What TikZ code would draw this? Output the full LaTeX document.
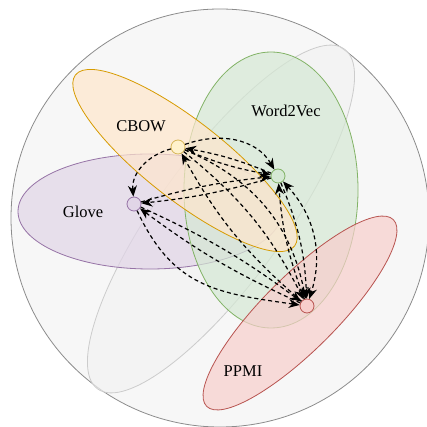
\documentclass[tikz,border=0pt]{standalone}
\usepackage{fontspec}
\setmainfont{Liberation Serif}
\usetikzlibrary{arrows.meta}
\definecolor{cbowfill}{HTML}{FFE6CC}
\definecolor{cbowdraw}{HTML}{D79B00}
\definecolor{cbowdotfill}{HTML}{FFF2CC}
\definecolor{cbowdotdraw}{HTML}{D6B656}
\definecolor{wvfill}{HTML}{D5E8D4}
\definecolor{wvdraw}{HTML}{82B366}
\definecolor{glovefill}{HTML}{E1D5E7}
\definecolor{glovedraw}{HTML}{9673A6}
\definecolor{ppmifill}{HTML}{F8CECC}
\definecolor{ppmidraw}{HTML}{B85450}

\begin{document}
\begin{tikzpicture}[x=1pt,y=1pt,
  >={Stealth[length=11pt,width=9pt,inset=3.5pt]},
  dot/.style={circle,draw,line width=0.8pt,minimum size=14pt,inner sep=0pt},
  blob/.style={line width=0.8pt,fill opacity=0.7},
  lbl/.style={font=\fontsize{16.5}{19}\selectfont},
  link/.style={->,dash pattern=on 4pt off 3pt,line width=1.2pt}]
 \useasboundingbox (0,0) rectangle (427,427);
 \draw[draw=black!45,fill=black!3,line width=0.8pt] (220,209) circle (209pt);
 \draw[blob,draw=black!20,fill=black!5,shift={(221,208)},rotate=54] (0,0) ellipse [x radius=210pt,y radius=63pt];
 \draw[blob,draw=glovedraw,fill=glovefill] (150,215.5) ellipse [x radius=132pt,y radius=57.5pt];
 \draw[blob,draw=wvdraw,fill=wvfill] (271,237) ellipse [x radius=87pt,y radius=138pt];
 \draw[blob,draw=cbowdraw,fill=cbowfill,shift={(185,266.5)},rotate=-38] (0,0) ellipse [x radius=139pt,y radius=39.5pt];
 \draw[blob,draw=ppmidraw,fill=ppmifill,shift={(300,114)},rotate=45] (0,0) ellipse [x radius=132pt,y radius=37pt];

 \node[lbl] (tcbow)  at (141,301) {CBOW};
 \node[lbl] (tw2v)   at (286,316) {Word2Vec};
 \node[lbl] (tglove) at (83,215)  {Glove};
 \node[lbl] (tppmi)  at (243,56)  {PPMI};

 \node[dot,draw=cbowdotdraw,fill=cbowdotfill] (cbow)  at (178,280) {};
 \node[dot,draw=wvdraw,fill=wvfill]           (w2v)   at (278,251) {};
 \node[dot,draw=glovedraw,fill=glovefill]     (glove) at (134,223) {};
 \node[dot,draw=ppmidraw,fill=ppmifill]       (ppmi)  at (307,121) {};

 \path[link] (cbow) edge [out=20, in=120] (w2v);
 \path[link] (w2v) edge [bend right=6] (cbow);
 \path[link] (cbow) edge [bend right=6] (w2v);
 \path[link] (cbow) edge [out=195, in=95] (glove);
 \path[link] (glove) edge [bend left=5] (w2v);
 \path[link] (w2v) edge [bend left=5] (glove);
 \path[link] (glove) edge [bend left=6] (ppmi);
 \path[link] (ppmi) edge [bend left=6] (glove);
 \path[link] (glove) edge [out=-65, in=172, looseness=1.15] (ppmi);
 \path[link] (ppmi) edge [bend left=10] (cbow);
 \path[link] (cbow) edge [bend left=12] (ppmi);
 \path[link] (cbow) edge [bend left=28] (ppmi);
 \path[link] (ppmi) edge [bend left=8] (w2v);
 \path[link] (w2v) edge [bend left=10] (ppmi);
 \path[link,<->] (w2v) edge [bend left=30] (ppmi);
\end{tikzpicture}
\end{document}
